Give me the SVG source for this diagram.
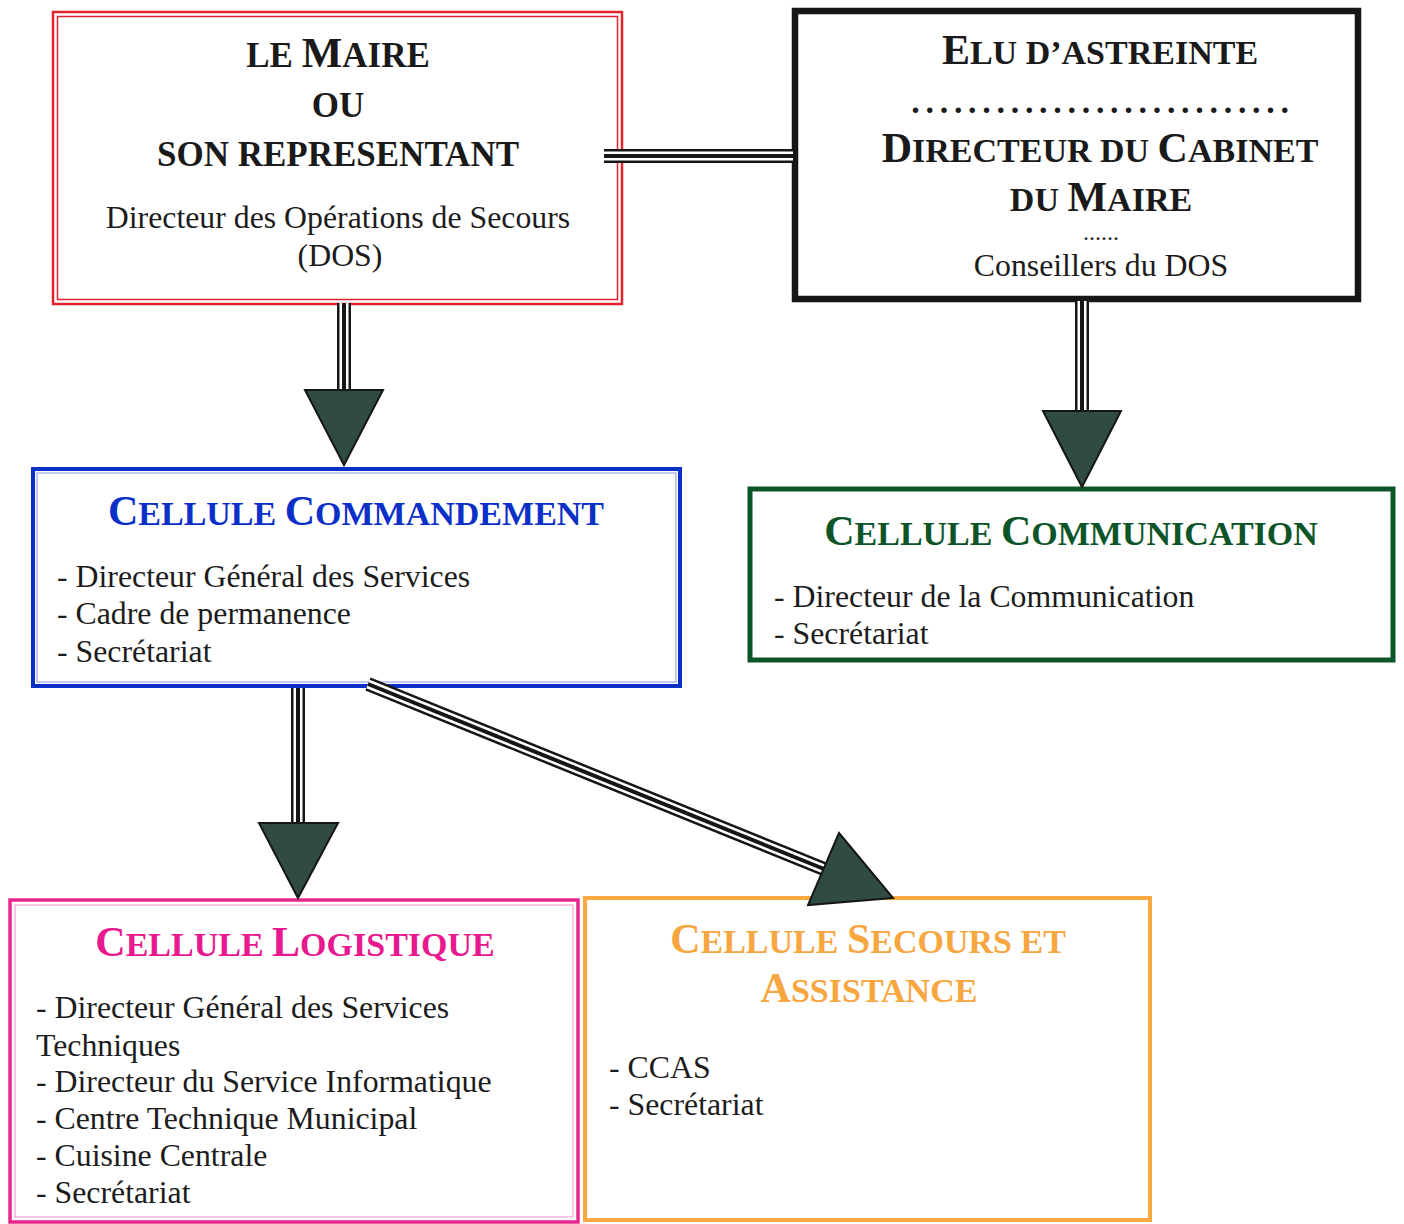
<svg xmlns="http://www.w3.org/2000/svg" width="1404" height="1224" viewBox="0 0 1404 1224">
  <style>
    text { font-family: "Liberation Serif", "Times New Roman", serif; }
    .ttl { font-weight: bold; text-anchor: middle; }
    .big { font-size: 42px; }
    .sm { font-size: 34px; }
    .body { font-size: 31.8px; fill: #1c1c1c; }
    .mid { text-anchor: middle; }
    .line-o { stroke: #161616; stroke-width: 14; fill: none; }
    .line-w { stroke: #ffffff; stroke-width: 9; fill: none; }
    .line-c { stroke: #161616; stroke-width: 4; fill: none; }
    .head { fill: #2f4b42; stroke: #161616; stroke-width: 2; stroke-linejoin: miter; }
  </style>

  <rect width="1404" height="1224" fill="#ffffff"/>

  <!-- Mayor / DOS -->
  <g id="maire">
    <rect x="53" y="12" width="569" height="292" fill="#fff" stroke="#e2222c" stroke-width="2.5"/>
    <rect x="57.5" y="16.5" width="560" height="283" fill="none" stroke="#e2222c" stroke-width="1.5"/>
    <text class="ttl" x="338" y="67" fill="#1a1a1a"><tspan style="font-size:35px">LE </tspan><tspan style="font-size:43px">M</tspan><tspan style="font-size:35px">AIRE</tspan></text>
    <text class="ttl" x="338" y="117" fill="#1a1a1a" style="font-size:35px">OU</text>
    <text class="ttl" x="338" y="166" fill="#1a1a1a" style="font-size:35px">SON REPRESENTANT</text>
    <text class="body mid" x="338" y="228">Directeur des Opérations de Secours</text>
    <text class="body mid" x="340" y="266">(DOS)</text>
  </g>

  <!-- Elected official on call / chief of staff -->
  <g id="elu">
    <rect x="795" y="11" width="563" height="288" fill="#fff" stroke="#161616" stroke-width="6.5"/>
    <text class="ttl" x="1100" y="64" fill="#1a1a1a"><tspan class="big">E</tspan><tspan class="sm">LU D’ASTREINTE</tspan></text>
    <text class="ttl" x="1103" y="113" fill="#1a1a1a" style="font-size:34px;letter-spacing:5.7px">...........................</text>
    <text class="ttl" x="1100" y="162" fill="#1a1a1a"><tspan class="big">D</tspan><tspan class="sm">IRECTEUR DU </tspan><tspan class="big">C</tspan><tspan class="sm">ABINET</tspan></text>
    <text class="ttl" x="1101" y="211" fill="#1a1a1a"><tspan class="sm">DU </tspan><tspan class="big">M</tspan><tspan class="sm">AIRE</tspan></text>
    <text class="mid" x="1101" y="240" fill="#1a1a1a" style="font-size:24px">......</text>
    <text class="body mid" x="1101" y="276">Conseillers du DOS</text>
  </g>

  <!-- Command cell -->
  <g id="commandement">
    <rect x="33" y="469" width="647" height="217" fill="#fff" stroke="#0a30c8" stroke-width="4"/>
    <rect x="37" y="473" width="639" height="209" fill="none" stroke="#0a30c8" stroke-width="1" opacity="0.5"/>
    <text class="ttl" x="356" y="525" fill="#0a30c8"><tspan class="big">C</tspan><tspan class="sm">ELLULE </tspan><tspan class="big">C</tspan><tspan class="sm">OMMANDEMENT</tspan></text>
    <text class="body" x="57" y="587">- Directeur Général des Services</text>
    <text class="body" x="57" y="624">- Cadre de permanence</text>
    <text class="body" x="57" y="662">- Secrétariat</text>
  </g>

  <!-- Communication cell -->
  <g id="communication">
    <rect x="750" y="489" width="643" height="171" fill="#fff" stroke="#0d5529" stroke-width="5"/>
    <text class="ttl" x="1071" y="545" fill="#0d5529"><tspan class="big">C</tspan><tspan class="sm">ELLULE </tspan><tspan class="big">C</tspan><tspan class="sm">OMMUNICATION</tspan></text>
    <text class="body" x="774" y="607">- Directeur de la Communication</text>
    <text class="body" x="774" y="644">- Secrétariat</text>
  </g>

  <!-- Logistics cell -->
  <g id="logistique">
    <rect x="10" y="900" width="568" height="322" fill="#fff" stroke="#e8268e" stroke-width="3.5"/>
    <rect x="15" y="905" width="558" height="312" fill="none" stroke="#e8268e" stroke-width="1" opacity="0.5"/>
    <text class="ttl" x="295" y="956" fill="#e8188e"><tspan class="big">C</tspan><tspan class="sm">ELLULE </tspan><tspan class="big">L</tspan><tspan class="sm">OGISTIQUE</tspan></text>
    <text class="body" x="36" y="1018">- Directeur Général des Services</text>
    <text class="body" x="36" y="1056">Techniques</text>
    <text class="body" x="36" y="1092">- Directeur du Service Informatique</text>
    <text class="body" x="36" y="1129">- Centre Technique Municipal</text>
    <text class="body" x="36" y="1166">- Cuisine Centrale</text>
    <text class="body" x="36" y="1203">- Secrétariat</text>
  </g>

  <!-- Relief and assistance cell -->
  <g id="secours">
    <rect x="585" y="898" width="565" height="322" fill="#fff" stroke="#f7a843" stroke-width="4"/>
    <text class="ttl" x="868" y="953" fill="#f7a640"><tspan class="big">C</tspan><tspan class="sm">ELLULE </tspan><tspan class="big">S</tspan><tspan class="sm">ECOURS ET</tspan></text>
    <text class="ttl" x="869" y="1002" fill="#f7a640"><tspan class="big">A</tspan><tspan class="sm">SSISTANCE</tspan></text>
    <text class="body" x="609" y="1078">- CCAS</text>
    <text class="body" x="609" y="1115">- Secrétariat</text>
  </g>

  <!-- Triple-rule connectors with filled arrowheads -->
  <g id="connectors">
    <g>
      <line class="line-o" x1="604" y1="156" x2="793" y2="156"/>
      <line class="line-w" x1="604" y1="156" x2="793" y2="156"/>
      <line class="line-c" x1="604" y1="156" x2="793" y2="156"/>
    </g>
    <g>
      <line class="line-o" x1="344" y1="303" x2="344" y2="391"/>
      <line class="line-w" x1="344" y1="303" x2="344" y2="391"/>
      <line class="line-c" x1="344" y1="303" x2="344" y2="391"/>
      <polygon class="head" points="305,390 383,390 344,465"/>
    </g>
    <g>
      <line class="line-o" x1="1082" y1="301" x2="1082" y2="412"/>
      <line class="line-w" x1="1082" y1="301" x2="1082" y2="412"/>
      <line class="line-c" x1="1082" y1="301" x2="1082" y2="412"/>
      <polygon class="head" points="1043,411 1121,411 1082,487"/>
    </g>
    <g>
      <line class="line-o" x1="298" y1="688" x2="298" y2="824"/>
      <line class="line-w" x1="298" y1="688" x2="298" y2="824"/>
      <line class="line-c" x1="298" y1="688" x2="298" y2="824"/>
      <polygon class="head" points="259,823 338,823 298,898"/>
    </g>
    <g>
      <line class="line-o" x1="368" y1="684" x2="824" y2="869"/>
      <line class="line-w" x1="368" y1="684" x2="824" y2="869"/>
      <line class="line-c" x1="368" y1="684" x2="824" y2="869"/>
      <polygon class="head" points="893,898 808,905 839,833"/>
    </g>
  </g>
</svg>
